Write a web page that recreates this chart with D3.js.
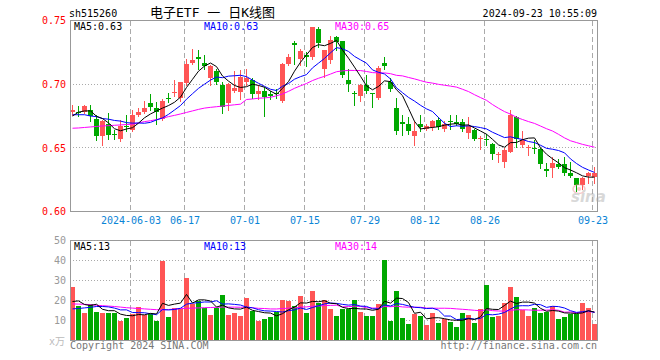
<!DOCTYPE html>
<html><head><meta charset="utf-8">
<script src="https://cdn.jsdelivr.net/npm/d3@7"></script>
<style>
body{margin:0;background:#fff}
svg{display:block}
text{font-family:"DejaVu Sans Mono","Liberation Mono",monospace}
</style>
</head><body>
<svg id="chart" width="660" height="360"></svg>
<script>
// ---------- DATA ----------
const dates = [
"05-20","05-21","05-22","05-23","05-24","05-27","05-28","05-29","05-30","05-31",
"06-03","06-04","06-05","06-06","06-07","06-11","06-12","06-13","06-14",
"06-17","06-18","06-19","06-20","06-21","06-24","06-25","06-26","06-27","06-28",
"07-01","07-02","07-03","07-04","07-05","07-08","07-09","07-10","07-11","07-12",
"07-15","07-16","07-17","07-18","07-19","07-22","07-23","07-24","07-25","07-26",
"07-29","07-30","07-31","08-01","08-02","08-05","08-06","08-07","08-08","08-09",
"08-12","08-13","08-14","08-15","08-16","08-19","08-20","08-21","08-22","08-23",
"08-26","08-27","08-28","08-29","08-30","09-02","09-03","09-04","09-05","09-06",
"09-09","09-10","09-11","09-12","09-13","09-18","09-19","09-20","09-23"];

const open = [
0.678,0.678,0.678,0.680,0.673,0.659,0.669,0.661,0.657,0.667,
0.664,0.676,0.678,0.685,0.681,0.673,0.689,0.693,0.689,0.701,
0.717,0.721,0.717,0.705,0.710,0.699,0.685,0.695,0.694,0.702,
0.703,0.692,0.695,0.692,0.693,0.687,0.716,0.732,0.720,0.723,
0.721,0.743,0.712,0.719,0.737,0.734,0.703,0.693,0.691,0.699,
0.693,0.689,0.717,0.702,0.681,0.670,0.669,0.659,0.669,0.665,
0.666,0.672,0.665,0.671,0.670,0.670,0.662,0.664,0.657,0.657,
0.653,0.644,0.639,0.647,0.674,0.652,0.651,0.650,0.649,0.633,
0.634,0.637,0.637,0.630,0.626,0.621,0.628,0.627];
const high = [
0.684,0.683,0.684,0.684,0.676,0.672,0.677,0.664,0.672,0.676,
0.680,0.681,0.687,0.692,0.686,0.688,0.693,0.703,0.702,0.720,
0.728,0.727,0.723,0.715,0.712,0.702,0.701,0.710,0.711,0.712,
0.705,0.699,0.698,0.695,0.696,0.717,0.724,0.734,0.728,0.725,
0.745,0.745,0.727,0.738,0.738,0.734,0.712,0.695,0.700,0.707,
0.693,0.714,0.721,0.705,0.689,0.676,0.674,0.671,0.676,0.669,
0.672,0.674,0.671,0.676,0.676,0.673,0.674,0.665,0.659,0.661,
0.654,0.647,0.650,0.680,0.675,0.663,0.652,0.656,0.650,0.638,
0.643,0.641,0.643,0.639,0.626,0.627,0.631,0.635];
const low = [
0.676,0.675,0.677,0.671,0.656,0.652,0.657,0.657,0.655,0.663,
0.663,0.675,0.677,0.680,0.669,0.672,0.686,0.691,0.687,0.699,
0.716,0.712,0.712,0.699,0.700,0.677,0.680,0.694,0.688,0.699,
0.689,0.688,0.675,0.688,0.689,0.686,0.715,0.716,0.715,0.714,
0.720,0.729,0.706,0.717,0.727,0.706,0.695,0.684,0.687,0.693,
0.682,0.688,0.712,0.695,0.661,0.660,0.661,0.652,0.663,0.664,
0.664,0.665,0.663,0.665,0.668,0.663,0.658,0.656,0.649,0.652,
0.641,0.639,0.635,0.647,0.651,0.651,0.644,0.646,0.634,0.628,
0.627,0.634,0.629,0.627,0.616,0.618,0.622,0.622];
const close = [
0.680,0.677,0.683,0.675,0.659,0.671,0.660,0.660,0.667,0.666,
0.676,0.678,0.681,0.682,0.678,0.687,0.688,0.694,0.702,0.716,
0.719,0.720,0.714,0.714,0.702,0.682,0.700,0.697,0.706,0.705,
0.692,0.695,0.690,0.691,0.692,0.716,0.721,0.731,0.726,0.721,
0.745,0.732,0.727,0.735,0.733,0.707,0.700,0.692,0.699,0.695,
0.692,0.713,0.714,0.696,0.663,0.669,0.663,0.663,0.666,0.667,
0.671,0.666,0.669,0.670,0.669,0.665,0.667,0.657,0.658,0.6565,
0.645,0.645,0.648,0.676,0.657,0.656,0.651,0.649,0.637,0.632,
0.638,0.635,0.630,0.628,0.621,0.626,0.630,0.630];

// volume in 万
const volume = [
26.7,17.5,13.7,18.3,14.5,14.0,14.0,13.7,9.7,11.2,
13.3,17.0,13.0,13.3,9.7,40.0,11.7,16.3,15.8,31.5,
18.3,19.7,16.3,13.0,16.3,23.0,13.0,13.7,12.5,21.2,
15.0,10.0,10.7,11.7,14.2,20.5,19.7,17.5,22.2,13.7,
24.7,18.7,20.3,15.7,12.5,15.7,15.8,20.5,14.5,12.2,
12.5,18.5,40.5,9.7,24.7,11.5,8.5,13.5,12.5,8.0,
14.0,9.0,11.0,9.5,7.0,14.0,13.0,9.0,16.0,28.0,
12.0,12.5,19.0,27.0,22.0,15.5,12.5,16.5,14.0,14.5,
17.5,11.0,12.0,13.5,13.5,19.0,16.5,8.5];

// moving-average values before a full window exists
const ma5Lead  = [0.675,0.678,0.679,0.679];
const ma10Lead = [0.676,0.676,0.676,0.675,0.6745,0.673,0.6725,0.6715,0.671];
const ma30Lead = [0.6654,0.6656,0.6660,0.6664,0.6668,0.6672,0.6674,0.6677,0.6680,0.6683,
                  0.6686,0.6696,0.6706,0.6713,0.6722,0.6733,0.6745,0.6755,0.6766,0.6778,
                  0.6790,0.6802,0.6812,0.6818,0.6823,0.6828,0.6833,0.6838,0.6843];
const vma5Lead  = [19.5,19.8,18.0,17.5];
const vma10Lead = [15.8,16.0,16.3,16.6,17.0,17.0,16.8,16.2,15.3];
const vma30Lead = [18.3,18.2,18.1,17.9,17.6,17.4,17.2,17.0,16.7,16.4,
                   16.2,16.0,15.8,15.6,15.4,15.3,15.5,15.7,15.9,16.1,
                   16.2,16.3,16.4,16.5,16.6,16.7,16.7,16.7,16.6];

const priceTicks = [0.75,0.70,0.65,0.60];
const volTicks = [50,40,30,20,10];
const dateTicks = ["06-03","06-17","07-01","07-15","07-29","08-12","08-26","09-23"];
const dateTickLabels = ["2024-06-03","06-17","07-01","07-15","07-29","08-12","08-26","09-23"];
const priceLegend = ["MA5:0.63","MA10:0.63","MA30:0.65"];
const volLegend = ["MA5:13","MA10:13","MA30:14"];
const code = "sh515260";
const title = "电子ETF 一 日K线图";
const stamp = "2024-09-23 10:55:09";

// ---------- HELPERS ----------
function movingAvg(arr, n, lead){
  return arr.map((_, i) => i < n - 1 ? lead[i] : d3.mean(arr.slice(i - n + 1, i + 1)));
}
const RED = "#ff5555", GREEN = "#00a800";
const maColors = ["#000000", "#0000ff", "#ff00ff"];

const svg = d3.select("#chart");
const L = 70, R = 598;
const x = d3.scaleLinear().domain([0, dates.length]).range([L, R]);
const yP = d3.scaleLinear().domain([0.60, 0.75]).range([211.5, 20.5]);
const yV = d3.scaleLinear().domain([0, 50]).range([340.5, 240.5]);
const idx = d => dates.indexOf(d);

// ---------- HEADER ----------
svg.append("text").attr("x", 69).attr("y", 17).attr("font-size", 10).attr("fill", "#000").text(code);
svg.append("text").attr("x", 150).attr("y", 16.5).attr("font-size", 13).attr("fill", "#000")
  .style("font-family", "'DejaVu Sans Mono','Noto Sans CJK SC',monospace").text(title);
svg.append("text").attr("x", 597).attr("y", 17).attr("font-size", 10).attr("text-anchor", "end").attr("fill", "#000").text(stamp);

// ---------- PANELS ----------
function panel(y0, y1, yScale, hTicks){
  const g = svg.append("g");
  // horizontal dotted grid
  g.selectAll("line.h").data(hTicks).join("line")
    .attr("x1", L).attr("x2", R)
    .attr("y1", d => Math.round(yScale(d) - 0.5) + 0.5).attr("y2", d => Math.round(yScale(d) - 0.5) + 0.5)
    .attr("stroke", "#aaa").attr("stroke-dasharray", "1,2").attr("shape-rendering", "crispEdges");
  // vertical dashed grid
  g.selectAll("line.v").data(dateTicks).join("line")
    .attr("x1", d => x(idx(d)) + 0.5).attr("x2", d => x(idx(d)) + 0.5)
    .attr("y1", y0).attr("y2", y1)
    .attr("stroke", "#aaa").attr("stroke-dasharray", "5,3").attr("shape-rendering", "crispEdges");
  return g;
}
panel(20.5, 211.5, yP, [0.70, 0.65]);
panel(240.5, 340.5, yV, [40, 30, 20, 10]);

// ---------- CANDLES ----------
const cg = svg.append("g").attr("shape-rendering", "crispEdges");
dates.forEach((d, i) => {
  const o = open[i], c = close[i], col = c >= o ? RED : GREEN;
  const xs = x(i);
  cg.append("line").attr("x1", xs + 2.5).attr("x2", xs + 2.5)
    .attr("y1", Math.round(yP(high[i]))).attr("y2", Math.round(yP(low[i])) + 1)
    .attr("stroke", col);
  const top = Math.round(yP(Math.max(o, c)));
  const h = Math.max(1, Math.round(yP(Math.min(o, c))) - top);
  cg.append("rect").attr("x", xs).attr("y", top).attr("width", 5).attr("height", h).attr("fill", col);
});

// ---------- VOLUME BARS ----------
svg.append("g").attr("shape-rendering", "crispEdges").selectAll("rect").data(volume).join("rect")
  .attr("x", (d, i) => x(i)).attr("width", 5)
  .attr("y", d => Math.round(yV(d))).attr("height", d => 340 - Math.round(yV(d)))
  .attr("fill", (d, i) => close[i] >= open[i] ? RED : GREEN);

// ---------- MA LINES ----------
const defs = svg.append("defs");
defs.append("clipPath").attr("id", "cp").append("rect").attr("x", L).attr("y", 20).attr("width", R - L).attr("height", 192);
defs.append("clipPath").attr("id", "cv").append("rect").attr("x", L).attr("y", 240).attr("width", R - L).attr("height", 100);

const pMAs = [movingAvg(close, 5, ma5Lead), movingAvg(close, 10, ma10Lead), movingAvg(close, 30, ma30Lead)];
const vMAs = [movingAvg(volume, 5, vma5Lead), movingAvg(volume, 10, vma10Lead), movingAvg(volume, 30, vma30Lead)];
const lineP = d3.line().x((d, i) => x(i) + 2.5).y(d => yP(d));
const lineV = d3.line().x((d, i) => x(i) + 2.5).y(d => yV(d));
[2, 1, 0].forEach(k => {
  svg.append("path").attr("d", lineP(pMAs[k])).attr("fill", "none").attr("stroke", maColors[k]).attr("stroke-width", 1).attr("clip-path", "url(#cp)");
  svg.append("path").attr("d", lineV(vMAs[k])).attr("fill", "none").attr("stroke", maColors[k]).attr("stroke-width", 1).attr("clip-path", "url(#cv)");
});

// ---------- BORDERS ----------
svg.append("rect").attr("x", 70.5).attr("y", 20.5).attr("width", 527).attr("height", 191)
  .attr("fill", "none").attr("stroke", "#999").attr("shape-rendering", "crispEdges");
svg.append("rect").attr("x", 70.5).attr("y", 240.5).attr("width", 527).attr("height", 100)
  .attr("fill", "none").attr("stroke", "#999").attr("shape-rendering", "crispEdges");

// ---------- AXES ----------
const axP = svg.append("g").attr("transform", "translate(70,0)")
  .call(d3.axisLeft(yP).tickValues(priceTicks).tickSize(0).tickPadding(4).tickFormat(d3.format(".2f")));
axP.select(".domain").remove();
axP.selectAll("text").attr("fill", "#ff0000").attr("font-size", 10).style("font-family", "'DejaVu Sans Mono',monospace");

const axV = svg.append("g").attr("transform", "translate(70,0)")
  .call(d3.axisLeft(yV).tickValues(volTicks).tickSize(0).tickPadding(4).tickFormat(d3.format("d")));
axV.select(".domain").remove();
axV.selectAll("text").attr("fill", "#999").attr("font-size", 10).style("font-family", "'DejaVu Sans Mono',monospace");

const xTick = d3.scaleLinear().domain([0, dates.length]).range([L + 0.5, R + 0.5]);
const axX = svg.append("g").attr("transform", "translate(0,211)")
  .call(d3.axisBottom(xTick).tickValues(dateTicks.map(idx)).tickSize(0).tickPadding(6)
    .tickFormat(v => dateTickLabels[dateTicks.indexOf(dates[v])]));
axX.select(".domain").remove();
axX.selectAll("text").attr("fill", "#0a84d6").attr("font-size", 10).style("font-family", "'DejaVu Sans Mono',monospace");

// ---------- LEGENDS ----------
const legX = [74, 204, 335];
priceLegend.forEach((t, k) => svg.append("text").attr("x", legX[k]).attr("y", 30).attr("font-size", 10).attr("fill", maColors[k]).text(t));
volLegend.forEach((t, k) => svg.append("text").attr("x", legX[k]).attr("y", 250).attr("font-size", 10).attr("fill", maColors[k]).text(t));

// ---------- FOOTER ----------
svg.append("text").attr("x", 49).attr("y", 345).attr("font-size", 10).attr("fill", "#bbb")
  .style("font-family", "'DejaVu Sans Mono','Noto Sans CJK SC',monospace").text("x万");
svg.append("text").attr("x", 70).attr("y", 349).attr("font-size", 10).attr("fill", "#777").text("Copyright 2024 SINA.COM");
svg.append("text").attr("x", 597).attr("y", 349).attr("font-size", 10).attr("fill", "#777").attr("text-anchor", "end").text("http://finance.sina.com.cn");

// ---------- WATERMARK ----------
const wm = svg.append("g").attr("opacity", 0.45);
wm.append("ellipse").attr("cx", 579).attr("cy", 189).attr("rx", 6).attr("ry", 4.5).attr("fill", "none").attr("stroke", "#e88").attr("stroke-width", 1.5);
wm.append("circle").attr("cx", 579).attr("cy", 189).attr("r", 2).attr("fill", "#e88");
wm.append("text").attr("x", 571).attr("y", 202).attr("font-size", 15).attr("font-weight", "bold").attr("font-style", "italic")
  .attr("fill", "#aaa").style("font-family", "'DejaVu Sans',sans-serif").text("sina");
</script>
</body></html>
